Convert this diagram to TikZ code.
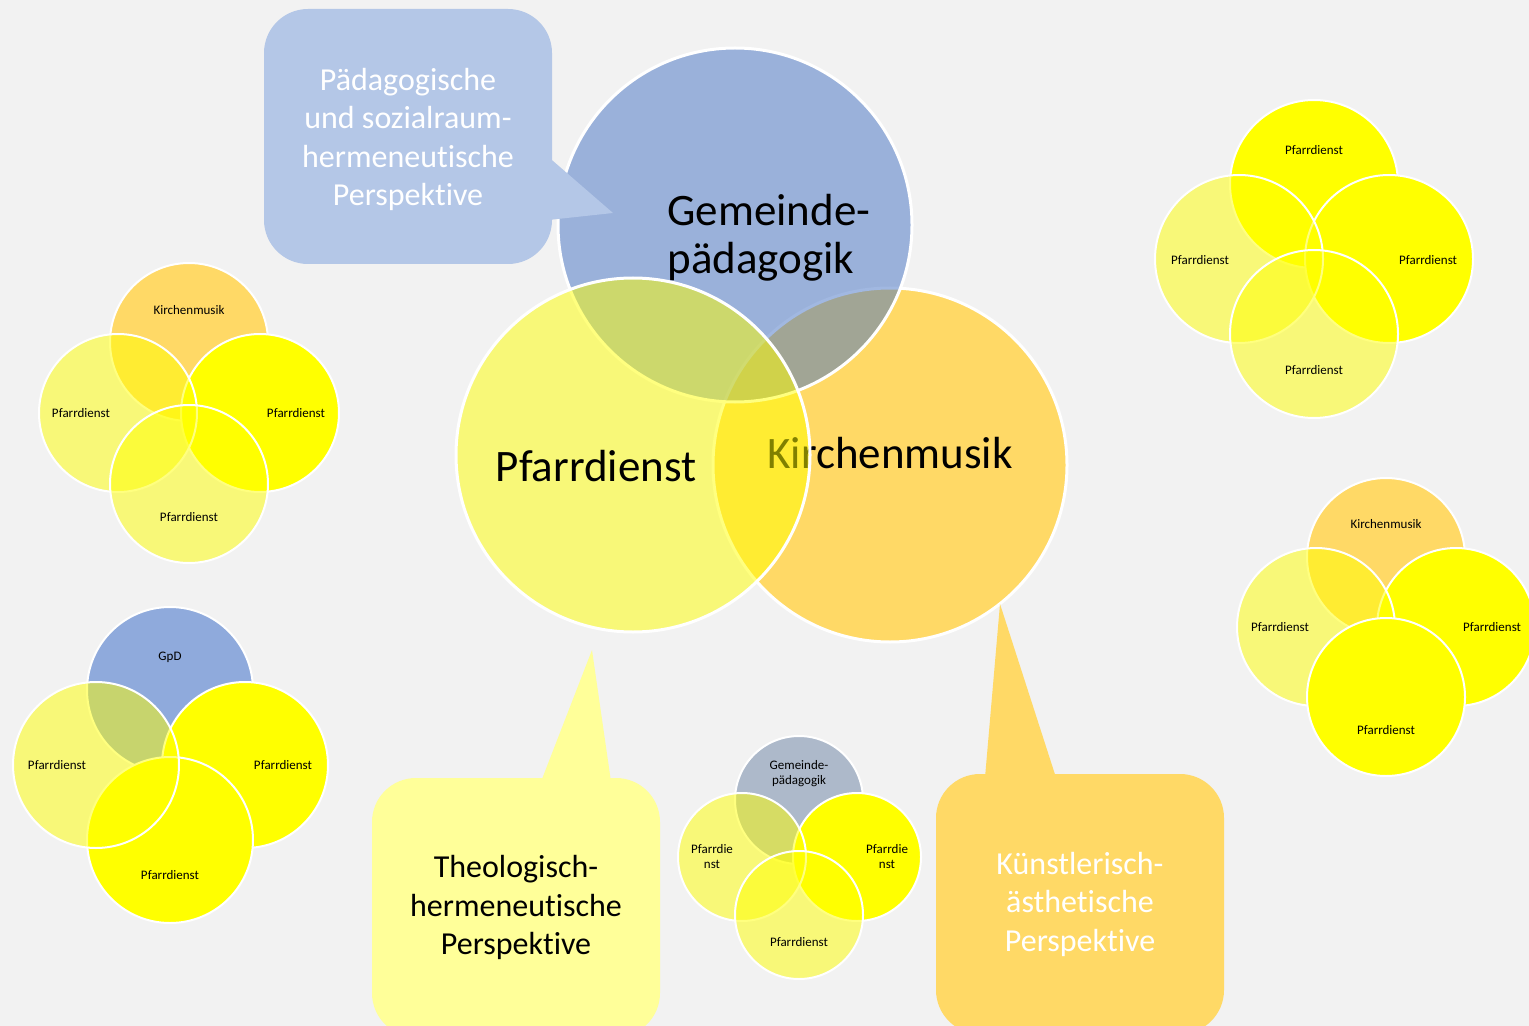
\documentclass[tikz,border=0pt]{standalone}
\usepackage{fontspec}
\setmainfont[Ligatures=NoCommon]{Carlito}
\definecolor{bgcol}{HTML}{F2F2F2}
\definecolor{gpblue}{HTML}{4472C4}
\definecolor{kmgold}{HTML}{FFD966}
\definecolor{pfyellow}{HTML}{FFFF00}
\definecolor{gpdblue}{HTML}{8FAADC}
\definecolor{gpgray}{HTML}{ADB9CA}
\definecolor{callblue}{HTML}{B4C7E7}
\definecolor{callyellow}{HTML}{FFFF99}
\tikzset{
  venn/.style={circle, draw=white, line width=1.5pt, inner sep=0pt, minimum size=177pt},
  smallvenn/.style={circle, draw=white, line width=1pt, inner sep=0pt},
  lightyel/.style={fill=pfyellow, fill opacity=0.5},
  fullyel/.style={fill=pfyellow},
  goldfill/.style={fill=kmgold},
  bigtxt/.style={font=\fontsize{22.5}{24}\selectfont, inner sep=0pt},
  calltxt/.style={font=\fontsize{16}{19.25}\selectfont, align=center},
  smalltxt/.style={font=\fontsize{6.5}{7.5}\selectfont, align=center, inner sep=0pt},
  callbox/.style={rounded corners=22pt, minimum width=144pt, inner sep=0pt}
}
\begin{document}
\begin{tikzpicture}[x=0.5pt, y=-0.5pt]
    \useasboundingbox (0,0) rectangle (1529,1026);
    \clip (0,0) rectangle (1529,1026);
    \fill[bgcol] (0,0) rectangle (1529,1026);
    % main venn
    \node[venn, goldfill] (km) at (890,465) {};
    \node[bigtxt] (kmtxt) at (890,453) {Kirchenmusik};
    \node[venn, fill=gpblue, fill opacity=0.5] (gp) at (735,225) {};
    \node[bigtxt, align=left, anchor=west] (gptxt) at (667,238) {Gemeinde-\\pädagogik};
    \node[venn, lightyel] (pf) at (633,455) {};
    \node[bigtxt] (pftxt) at (596,466) {Pfarrdienst};
    % callouts
    \node[callbox, fill=callblue, minimum height=127.5pt] (pcall) at (408,136.5) {};
    \node[calltxt, text=white] (pcalltxt) at (408,139.5)
      {Pädagogische\\und sozialraum-\\hermeneutische\\Perspektive};
    \coordinate (ptip) at (613,213);
    \fill[callblue] ([xshift=-2pt, yshift=-10.25pt]pcall.east) -- (ptip) -- ([xshift=-2pt, yshift=-41.75pt]pcall.east) -- cycle;
    \node[callbox, fill=callyellow, minimum height=129.5pt, calltxt] (tcall) at (516,907.5)
      {Theologisch-\\hermeneutische\\Perspektive};
    \coordinate (ttip) at (592,650);
    \fill[callyellow] ([xshift=12.5pt, yshift=-2pt]tcall.north) -- (ttip) -- ([xshift=47.5pt, yshift=-2pt]tcall.north) -- cycle;
    \node[callbox, fill=kmgold, minimum height=130pt, calltxt, text=white] (kcall) at (1080,904)
      {Künstlerisch-\\ästhetische\\Perspektive};
    \coordinate (ktip) at (1000,604);
    \fill[kmgold] ([xshift=-47.5pt, yshift=-2pt]kcall.north) -- (ktip) -- ([xshift=-12pt, yshift=-2pt]kcall.north) -- cycle;
    % top left
    \node[smallvenn, goldfill, minimum size=79pt] (ga) at (189,342) {};
    \node[smallvenn, fullyel, minimum size=79pt] (gar) at (260,413) {};
    \node[smallvenn, lightyel, minimum size=79pt] (gal) at (118,413) {};
    \node[smallvenn, lightyel, minimum size=79pt] (gab) at (189,484) {};
    \node[smalltxt] (gatxt) at (189,310) {Kirchenmusik};
    \node[smalltxt] (galtxt) at (81,413) {Pfarrdienst};
    \node[smalltxt] (gartxt) at (296,413) {Pfarrdienst};
    \node[smalltxt] (gabtxt) at (189,517) {Pfarrdienst};
    % bottom left
    \node[smallvenn, fill=gpdblue, minimum size=83pt] (gb) at (170,690) {};
    \node[smallvenn, fullyel, minimum size=83pt] (gbr) at (245,765) {};
    \node[smallvenn, fullyel, minimum size=83pt] (gbb) at (170,840) {};
    \node[smallvenn, lightyel, minimum size=83pt] (gbl) at (96,765) {};
    \node[smalltxt] (gbtxt) at (170,657) {GpD};
    \node[smalltxt] (gbltxt) at (57,765) {Pfarrdienst};
    \node[smalltxt] (gbrtxt) at (283,765) {Pfarrdienst};
    \node[smalltxt] (gbbtxt) at (170,875) {Pfarrdienst};
    % bottom middle
    \node[smallvenn, fill=gpgray, minimum size=64pt] (gc) at (799,800) {};
    \node[smallvenn, fullyel, minimum size=64pt] (gcr) at (857,857) {};
    \node[smallvenn, lightyel, minimum size=64pt] (gcl) at (742,857) {};
    \node[smallvenn, lightyel, minimum size=64pt] (gcb) at (799,915) {};
    \node[smalltxt] (gctxt) at (799,774) {Gemeinde-\\pädagogik};
    \node[smalltxt] (gcltxt) at (712,857) {Pfarrdie\\nst};
    \node[smalltxt] (gcrtxt) at (887,857) {Pfarrdie\\nst};
    \node[smalltxt] (gcbtxt) at (799,942) {Pfarrdienst};
    % top right
    \node[smallvenn, fullyel, minimum size=84pt] (gd) at (1314,184) {};
    \node[smallvenn, fullyel, minimum size=84pt] (gdr) at (1389,259) {};
    \node[smallvenn, lightyel, minimum size=84pt] (gdl) at (1239,259) {};
    \node[smallvenn, lightyel, minimum size=84pt] (gdb) at (1314,334) {};
    \node[smalltxt] (gdtxt) at (1314,150) {Pfarrdienst};
    \node[smalltxt] (gdltxt) at (1200,260) {Pfarrdienst};
    \node[smalltxt] (gdrtxt) at (1428,260) {Pfarrdienst};
    \node[smalltxt] (gdbtxt) at (1314,370) {Pfarrdienst};
    % right middle
    \node[smallvenn, goldfill, minimum size=79pt] (ge) at (1386,557) {};
    \node[smallvenn, fullyel, minimum size=79pt] (ger) at (1456,627) {};
    \node[smallvenn, lightyel, minimum size=79pt] (gel) at (1316,627) {};
    \node[smallvenn, fullyel, minimum size=79pt] (geb) at (1386,697) {};
    \node[smalltxt] (getxt) at (1386,524) {Kirchenmusik};
    \node[smalltxt] (geltxt) at (1280,627) {Pfarrdienst};
    \node[smalltxt] (gertxt) at (1492,627) {Pfarrdienst};
    \node[smalltxt] (gebtxt) at (1386,730) {Pfarrdienst};
\end{tikzpicture}
\end{document}
